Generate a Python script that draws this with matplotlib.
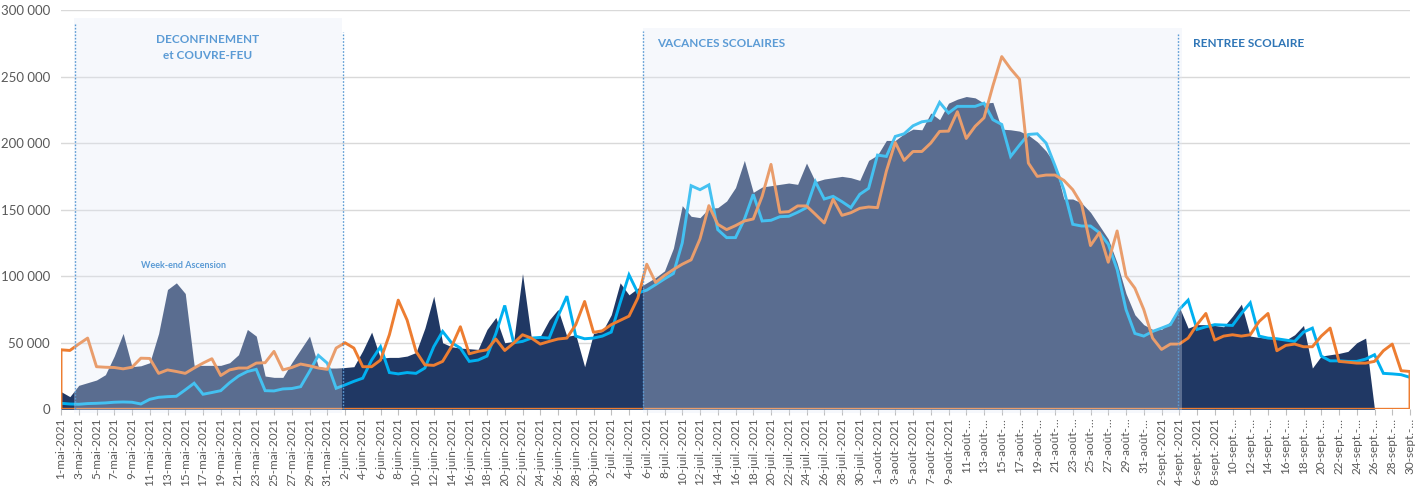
import numpy as np
import matplotlib
matplotlib.use("Agg")
import matplotlib.pyplot as plt
from matplotlib.patches import Rectangle
from matplotlib.ticker import FuncFormatter

plt.rcParams['font.family'] = ['Lato', 'DejaVu Sans']

# ---------------- data ----------------
tick_labels = [
    "1-mai-2021", "3-mai-2021", "5-mai-2021", "7-mai-2021", "9-mai-2021", "11-mai-2021",
    "13-mai-2021", "15-mai-2021", "17-mai-2021", "19-mai-2021", "21-mai-2021", "23-mai-2021",
    "25-mai-2021", "27-mai-2021", "29-mai-2021", "31-mai-2021",
    "2-juin-2021", "4-juin-2021", "6-juin-2021", "8-juin-2021", "10-juin-2021", "12-juin-2021",
    "14-juin-2021", "16-juin-2021", "18-juin-2021", "20-juin-2021", "22-juin-2021", "24-juin-2021",
    "26-juin-2021", "28-juin-2021", "30-juin-2021",
    "2-juil.-2021", "4-juil.-2021", "6-juil.-2021", "8-juil.-2021", "10-juil.-2021", "12-juil.-2021",
    "14-juil.-2021", "16-juil.-2021", "18-juil.-2021", "20-juil.-2021", "22-juil.-2021", "24-juil.-2021",
    "26-juil.-2021", "28-juil.-2021", "30-juil.-2021",
    "1-août-2021", "3-août-2021", "5-août-2021", "7-août-2021", "9-août-2021", "11-août-…",
    "13-août-…", "15-août-…", "17-août-…", "19-août-…", "21-août-…", "23-août-…",
    "25-août-…", "27-août-…", "29-août-…", "31-août-…",
    "2-sept.-2021", "4-sept.-2021", "6-sept.-2021", "8-sept.-2021", "10-sept.-…", "12-sept.-…",
    "14-sept.-…", "16-sept.-…", "18-sept.-…", "20-sept.-…", "22-sept.-…", "24-sept.-…",
    "26-sept.-…", "28-sept.-…", "30-sept.-…",
]

# navy area (daily, 1 May -> 30 Sept 2021)
navy_area = [
    13300, 9500, 18000, 20000, 22000, 26000, 40000, 57000, 32000, 32700,
    35000, 57000, 90000, 95000, 87000, 33000, 33000, 33000, 33000, 35000,
    41000, 60000, 55000, 25000, 24000, 24000, 35000, 45000, 55000, 32000,
    31000, 31000, 31400, 32000, 44000, 58000, 38400, 39000, 39000, 40000,
    42700, 61000, 85000, 50000, 47000, 46000, 45500, 45000, 60000, 69000,
    50000, 51000, 102000, 53500, 54800, 67000, 75000, 54800, 56000, 32000,
    57000, 58500, 71000, 95000, 86000, 91000, 95000, 99000, 104000, 121000,
    153000, 145000, 144000, 151000, 151500, 156500, 166600, 187000, 163000, 167000,
    168000, 169000, 170000, 169000, 185000, 171000, 173000, 174000, 175000, 174000,
    172000, 187000, 191000, 202000, 202000, 207000, 210500, 210000, 222600, 217600,
    230000, 233000, 235000, 234000, 230000, 230600, 210500, 210000, 209000, 206000,
    201000, 194000, 184000, 158000, 158000, 155000, 148000, 138000, 128000, 110000,
    87000, 71000, 63600, 60000, 60000, 66000, 77000, 61000, 63600, 63600,
    63000, 62000, 70000, 79000, 55000, 54000, 53500, 53000, 52000, 56000,
    63000, 31000, 40000, 41000, 42000, 43500, 50000, 53500, 0, 0,
    0, 0, 0,
]

cyan_line = [
    4500, 4000, 3800, 4300, 4500, 4800, 5300, 5500, 5300, 4000,
    7500, 9000, 9500, 9800, 14600, 19600, 11300, 12600, 14000, 20000,
    25000, 28400, 30000, 14000, 13800, 15300, 15600, 17000, 28400, 40500,
    34700, 15800, 18300, 21000, 23400, 37000, 47000, 27600, 26600, 27600,
    27000, 31000, 47000, 58500, 50000, 46000, 36000, 37000, 40000, 57000,
    78000, 50000, 51000, 53500, 54000, 53500, 70000, 85000, 55000, 53000,
    53500, 55000, 58000, 80000, 101000, 87400, 89500, 93700, 98000, 102000,
    125000, 168000, 165000, 168600, 135000, 129000, 129000, 142700, 161500, 141500,
    142000, 144700, 145000, 148000, 151500, 171000, 158000, 160000, 156000, 151500,
    161500, 166000, 191000, 190000, 205000, 207000, 213000, 216000, 217000, 230600,
    222600, 227600, 227600, 227600, 230000, 217600, 214000, 190000, 198500, 206500,
    207000, 200000, 183000, 165000, 139000, 137700, 137700, 132700, 124000, 105000,
    75000, 57000, 55000, 58500, 61000, 63600, 75000, 82000, 60000, 62000,
    63600, 63300, 63000, 72000, 80000, 55000, 53500, 53000, 52000, 51000,
    58000, 61000, 40000, 36400, 36400, 36000, 36000, 37700, 41000, 27000,
    26600, 26000, 24000,
]

orange_line = [
    44700, 44200, 49000, 53500, 32000, 31600, 31400, 30400, 31600, 38400,
    38200, 27000, 29600, 28400, 27000, 31000, 34700, 38000, 25400, 29600,
    31000, 31000, 34700, 35000, 43500, 29600, 31400, 34000, 32700, 31000,
    30000, 46000, 50000, 46000, 32000, 32000, 37000, 56000, 82000, 67000,
    43500, 33400, 33000, 36000, 47000, 62000, 41700, 43500, 44700, 52800,
    44200, 49700, 56000, 53500, 49000, 51000, 52800, 53500, 63600, 81000,
    57800, 59000, 63600, 66800, 70000, 83700, 109000, 95300, 100500, 105000,
    109000, 112300, 128000, 153000, 139000, 135000, 138000, 141500, 143000, 160000,
    184000, 148000, 148500, 152800, 152800, 146500, 140000, 157800, 145700, 147700,
    151000, 152000, 151500, 179000, 200500, 187000, 193700, 193700, 200000, 208800,
    209000, 223600, 203500, 212600, 219000, 243000, 265000, 255800, 248000, 185000,
    175000, 176000, 176000, 172000, 165000, 154000, 123000, 132700, 110500, 134000,
    100000, 91000, 75000, 53500, 45000, 49000, 49000, 53500, 63600, 72000,
    52000, 55000, 56000, 55000, 56000, 66000, 72000, 44000, 48000, 49000,
    47000, 47000, 55000, 61000, 36000, 35400, 34700, 34700, 36000, 44000,
    49000, 29000, 28400,
]

# ---------------- figure ----------------
W, H = 1424, 486
fig = plt.figure(figsize=(W / 100, H / 100), dpi=100)
ax = fig.add_axes([61 / W, 1 - 409.3 / H, (1410 - 61) / W, (409.3 - 10) / H])

x = np.arange(len(navy_area))
navy_c = '#203864'
cyan_c = '#00b0f0'
orange_c = '#ed7d31'
label_c = '#5b9bd5'

ax.fill_between(x, 0, navy_area, color=navy_c, lw=0, zorder=2)
ax.plot(x, cyan_line, color=cyan_c, lw=2.1, zorder=3, solid_joinstyle='miter')
ax.fill_between(x, 0, orange_line, facecolor='none', edgecolor=orange_c, lw=2.1,
                zorder=4, clip_on=True)

# translucent period boxes
box_kw = dict(facecolor='#e2e9f6', alpha=0.3, lw=0, zorder=5, clip_on=False)
ax.add_patch(Rectangle((1.46, -2500), 31.66 - 1.46, 294000 + 2500, **box_kw))
ax.add_patch(Rectangle((65.58, -2500), 126.3 - 65.58, 286600 + 2500, **box_kw))

# dotted separators
for xv, top in [(1.58, 289600), (31.77, 283600), (65.6, 284500), (125.9, 283000)]:
    ax.plot([xv, xv], [0, top], ls=(0, (1.2, 1.2)), color=label_c, lw=1.0, zorder=6)

# annotations
tkw = dict(fontweight='bold', zorder=7)
ax.text(16.56, 278000, "DECONFINEMENT", ha='center', va='center', color=label_c, fontsize=8.5, **tkw)
ax.text(16.56, 265500, "et COUVRE-FEU", ha='center', va='center', color=label_c, fontsize=8.5, **tkw)
ax.text(67.15, 275000, "VACANCES SCOLAIRES", ha='left', va='center', color=label_c, fontsize=8.5, **tkw)
ax.text(127.55, 274500, "RENTREE SCOLAIRE", ha='left', va='center', color='#2e75b6', fontsize=8.5, **tkw)
ax.text(13.75, 108000, "Week-end Ascension", ha='center', va='center', color=label_c, fontsize=6.5, **tkw)

# axes styling
ax.set_xlim(0, len(navy_area) - 1)
ax.set_ylim(0, 300000)
ax.set_yticks(np.arange(0, 300001, 50000))
ax.yaxis.set_major_formatter(FuncFormatter(lambda v, p: f"{int(v):,}".replace(",", " ")))
ax.set_xticks(np.arange(0, len(navy_area), 2))
ax.set_xticklabels(tick_labels, rotation=90)
ax.grid(axis='y', color='#d9d9d9', lw=1, zorder=0)
ax.set_axisbelow(True)
for s in ax.spines.values():
    s.set_visible(False)
ax.tick_params(axis='y', length=0, pad=8, labelsize=9.5, labelcolor='#595959')
ax.tick_params(axis='x', length=4, width=0.8, color='#bfbfbf', pad=2, labelsize=8.5,
               labelcolor='#595959', direction='out')

fig.savefig("out.png", dpi=100)
